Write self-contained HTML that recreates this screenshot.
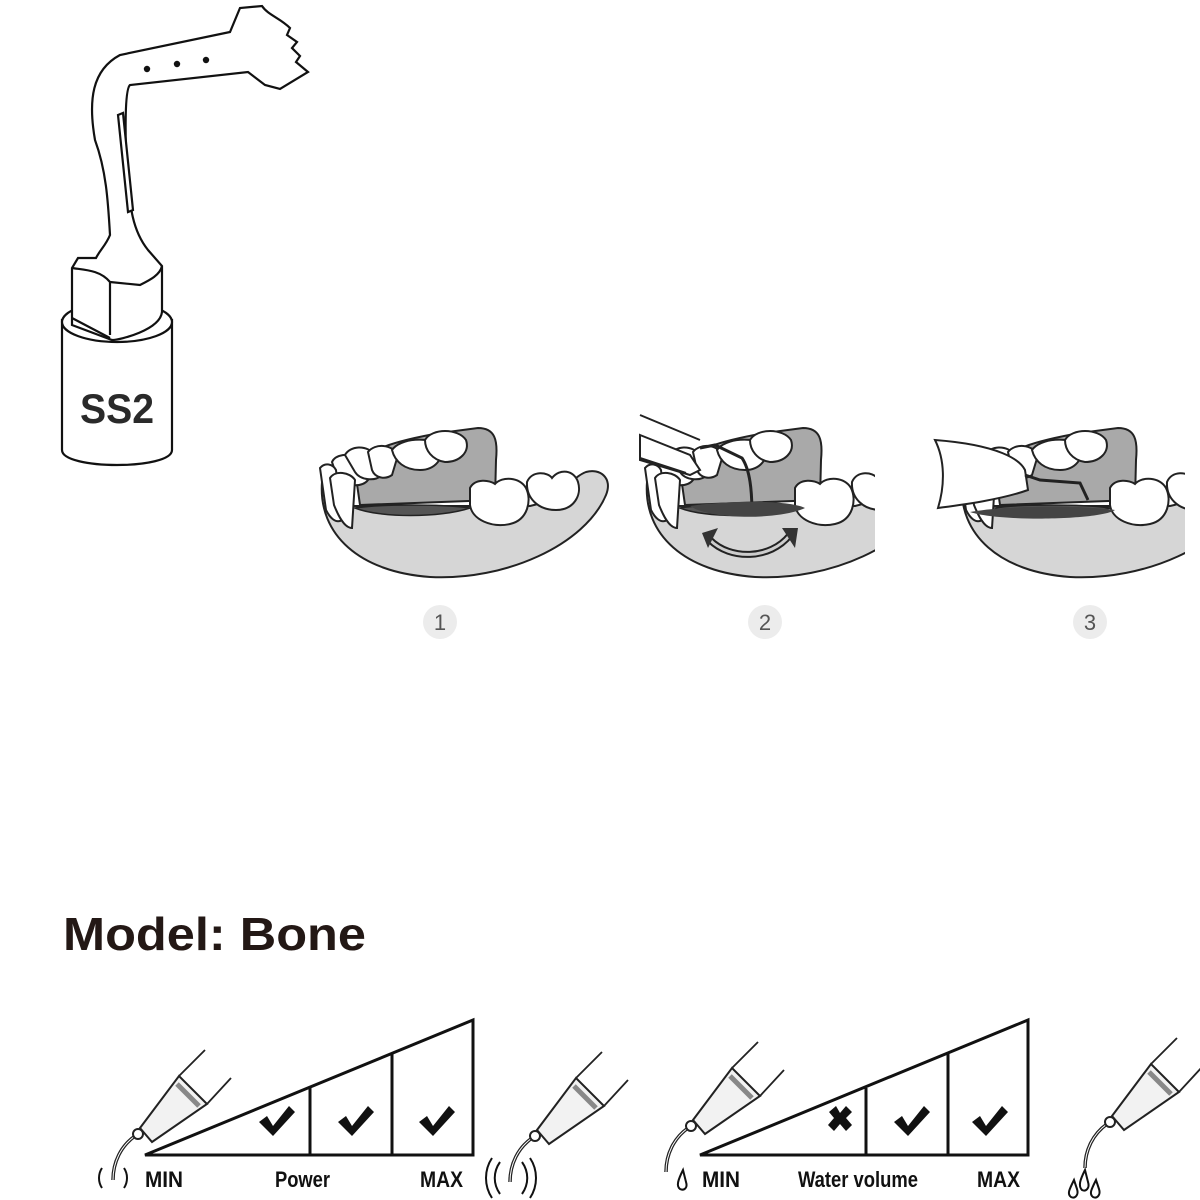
<!DOCTYPE html>
<html><head><meta charset="utf-8">
<style>
html,body{margin:0;padding:0;background:#fff;}
svg{display:block;}
.lbl{font-family:"Liberation Sans",sans-serif;font-weight:bold;font-size:22px;fill:#111;}
</style></head>
<body>
<svg width="1200" height="1200" viewBox="0 0 1200 1200" xmlns="http://www.w3.org/2000/svg">
<defs>
  <g id="jaw">
    <path d="M355,470 C360,450 400,440 440,433 L478,428 C495,428 498,440 496,460 L495,500 L360,505 Z" fill="#a9a9a9" stroke="#222" stroke-width="2"/>
    <path d="M322,482 C318,535 360,572 430,577 C505,581 585,545 606,495 C613,478 600,468 586,472 C570,478 560,500 530,506 L340,506 C330,500 325,490 322,482 Z" fill="#d6d6d6" stroke="#222" stroke-width="2"/>
    <path d="M355,508 C380,504 440,504 470,508 C440,518 380,518 355,508 Z" fill="#555" stroke="#222" stroke-width="1.5"/>
    <path d="M332,462 C335,455 348,452 360,458 L368,480 C362,488 345,486 338,480 Z" fill="#fff" stroke="#222" stroke-width="2"/>
    <path d="M345,455 C350,446 366,444 375,455 L382,475 C375,482 360,480 355,472 Z" fill="#fff" stroke="#222" stroke-width="2"/>
    <path d="M368,452 C375,443 392,444 398,455 L392,475 C385,480 375,478 372,470 Z" fill="#fff" stroke="#222" stroke-width="2"/>
    <path d="M392,450 C400,438 430,436 440,446 C445,458 435,470 420,470 C405,470 395,462 392,450 Z" fill="#fff" stroke="#222" stroke-width="2"/>
    <path d="M425,440 C432,428 458,428 466,440 C470,452 460,462 445,462 C432,460 425,450 425,440 Z" fill="#fff" stroke="#222" stroke-width="2"/>
    <path d="M320,468 C325,462 333,464 336,470 L342,520 C336,524 330,518 326,510 Z" fill="#fff" stroke="#222" stroke-width="2"/>
    <path d="M330,478 C335,470 350,472 355,480 L352,528 C344,528 338,515 334,505 Z" fill="#fff" stroke="#222" stroke-width="2"/>
    <path d="M470,488 C475,478 490,480 495,484 C502,476 520,477 526,488 C532,500 528,520 510,524 C492,528 472,520 470,505 Z" fill="#fff" stroke="#222" stroke-width="2"/>
    <path d="M527,482 C532,470 548,472 552,478 C560,468 574,470 578,482 C582,495 574,510 556,510 C538,510 526,498 527,482 Z" fill="#fff" stroke="#222" stroke-width="2"/>
  </g>
  <g id="hp">
    <path d="M0,0 C0,-18 8,-34 22,-44" stroke="#222" stroke-width="3.5" fill="none"/>
    <path d="M0,0 C0,-18 8,-34 22,-44" stroke="#fff" stroke-width="1" fill="none"/>
    <circle cx="25" cy="-46" r="5" fill="#fff" stroke="#222" stroke-width="2"/>
    <path d="M27,-52 L39,-38 L94,-76 L66,-104 Z" fill="#f2f2f2" stroke="#222" stroke-width="2"/>
    <path d="M64,-96 L86,-74" stroke="#888" stroke-width="5"/>
    <path d="M66,-104 L92,-130 M94,-76 L118,-102" stroke="#222" stroke-width="1.8" fill="none"/>
  </g>
  <path id="chk" d="M-14,-2 L-6,-8 L0,2 L16,-18 L22,-12 L0,12 Z" fill="#111"/>
</defs>

<!-- SS2 tip -->
<g fill="#fff" stroke="#111" stroke-width="2.2">
  <path d="M62,320 L62,450 C62,470 172,470 172,450 L172,320 Z"/>
  <ellipse cx="117" cy="322" rx="55" ry="20"/>
  <path d="M72,325 L72,268 L78,258 L96,258 L96,258 C100,250 106,245 110,235 C108,200 106,170 95,140 C88,100 92,70 120,55 L230,32 L240,8 L262,6 C268,15 280,18 290,28 L287,35 L297,42 L292,48 L300,56 L296,62 L308,72 L280,89 L265,85 L248,72 L130,85 C124,90 125,150 128,180 C130,205 132,230 148,250 L162,266 L162,312 C160,330 120,340 112,340 L72,325 Z"/>
  <path d="M72,268 C85,270 100,270 110,282 L110,335 M110,282 L140,285 C150,280 160,275 162,266" fill="none"/>
  <path d="M72,318 L110,338" fill="none"/>
  <path d="M118,115 L123,113 L133,210 L128,212 Z" fill="#fff"/>
</g>
<circle cx="147" cy="69" r="3.2" fill="#111"/>
<circle cx="177" cy="64" r="3.2" fill="#111"/>
<circle cx="206" cy="60" r="3.2" fill="#111"/>
<text x="80" y="423" textLength="74" lengthAdjust="spacingAndGlyphs" font-family="Liberation Sans,sans-serif" font-weight="bold" font-size="42" fill="#2a2a2a">SS2</text>

<!-- jaws -->
<use href="#jaw"/>
<clipPath id="c2"><rect x="630" y="400" width="245" height="200"/></clipPath>
<clipPath id="c3"><rect x="930" y="400" width="255" height="200"/></clipPath>
<g clip-path="url(#c2)"><use href="#jaw" transform="translate(325 0)"/>
  <path d="M640,435 L690,455 L700,470 L690,475 L640,460 Z" fill="#fff" stroke="#222" stroke-width="2"/>
  <path d="M640,415 L700,440 M640,458 L686,473" stroke="#222" stroke-width="2"/>
  <path d="M700,448 L715,445 L742,458 C750,470 752,490 752,515" stroke="#222" stroke-width="3" fill="none"/>
  <path d="M710,540 C730,560 770,560 790,535" stroke="#222" stroke-width="7" fill="none"/>
  <path d="M710,540 C730,560 770,560 790,535" stroke="#ccc" stroke-width="3" fill="none"/>
  <path d="M702,533 L718,528 L708,548 Z M798,528 L782,528 L795,548 Z" fill="#333"/>
  <path d="M690,506 C730,500 790,500 805,508 C780,520 710,520 690,506 Z" fill="#444"/>
</g>
<g clip-path="url(#c3)"><use href="#jaw" transform="translate(640 0)"/>
  <path d="M970,512 C1010,505 1080,505 1115,510 C1100,520 1000,522 970,512 Z" fill="#444"/>
  <path d="M935,440 C1000,445 1020,460 1025,470 L1028,490 C1000,500 960,505 938,508 C945,485 945,460 935,440 Z" fill="#fff" stroke="#222" stroke-width="2"/>
  <path d="M1025,475 L1040,480 L1080,483 L1088,500" stroke="#222" stroke-width="3" fill="none"/>
</g>

<g font-family="Liberation Sans,sans-serif" font-size="22" fill="#555" text-anchor="middle">
  <circle cx="440" cy="622" r="17" fill="#ececec"/><text x="440" y="630">1</text>
  <circle cx="765" cy="622" r="17" fill="#ececec"/><text x="765" y="630">2</text>
  <circle cx="1090" cy="622" r="17" fill="#ececec"/><text x="1090" y="630">3</text>
</g>

<text x="63" y="950" textLength="303" lengthAdjust="spacingAndGlyphs" font-family="Liberation Sans,sans-serif" font-weight="bold" font-size="46" fill="#231815">Model: Bone</text>

<g fill="none" stroke="#111" stroke-width="3">
  <path d="M145,1155 L473,1155 L473,1020 Z"/>
  <path d="M310,1088 L310,1155 M392,1054 L392,1155"/>
  <path d="M700,1155 L1028,1155 L1028,1020 Z"/>
  <path d="M866,1088 L866,1155 M948,1054 L948,1155"/>
</g>
<use href="#chk" transform="translate(273 1124)"/>
<use href="#chk" transform="translate(352 1124)"/>
<use href="#chk" transform="translate(433 1124)"/>
<use href="#chk" transform="translate(908 1124)"/>
<use href="#chk" transform="translate(986 1124)"/>
<path d="M829,1112 L836,1106 L840,1113 L846,1106 L852,1112 L846,1118 L852,1125 L846,1131 L840,1124 L834,1131 L828,1125 L834,1118 Z" fill="#111"/>

<text class="lbl" x="145" y="1187" textLength="38" lengthAdjust="spacingAndGlyphs">MIN</text>
<text class="lbl" x="275" y="1187" textLength="55" lengthAdjust="spacingAndGlyphs">Power</text>
<text class="lbl" x="420" y="1187" textLength="43" lengthAdjust="spacingAndGlyphs">MAX</text>
<text class="lbl" x="702" y="1187" textLength="38" lengthAdjust="spacingAndGlyphs">MIN</text>
<text class="lbl" x="798" y="1187" textLength="120" lengthAdjust="spacingAndGlyphs">Water volume</text>
<text class="lbl" x="977" y="1187" textLength="43" lengthAdjust="spacingAndGlyphs">MAX</text>

<use href="#hp" transform="translate(113 1180)"/>
<use href="#hp" transform="translate(510 1182)"/>
<use href="#hp" transform="translate(666 1172)"/>
<use href="#hp" transform="translate(1085 1168)"/>
<g fill="none" stroke="#111" stroke-width="2">
  <path d="M102,1168 C98,1174 98,1182 102,1188 M124,1168 C128,1174 128,1182 124,1188"/>
  <path d="M500,1162 C493,1172 493,1184 500,1194 M492,1158 C484,1170 484,1186 492,1198 M522,1162 C529,1172 529,1184 522,1194 M530,1158 C538,1170 538,1186 530,1198"/>
  <path d="M683,1170 C678,1180 676,1186 680,1189 C684,1191 688,1188 686,1182 Z"/>
  <path d="M1085,1170 C1080,1180 1078,1186 1082,1190 C1086,1192 1090,1188 1088,1182 Z"/>
  <path d="M1074,1180 C1069,1190 1067,1194 1071,1197 C1075,1199 1079,1195 1077,1189 Z"/>
  <path d="M1096,1180 C1091,1190 1089,1194 1093,1197 C1097,1199 1101,1195 1099,1189 Z"/>
</g>
</svg>
</body></html>
